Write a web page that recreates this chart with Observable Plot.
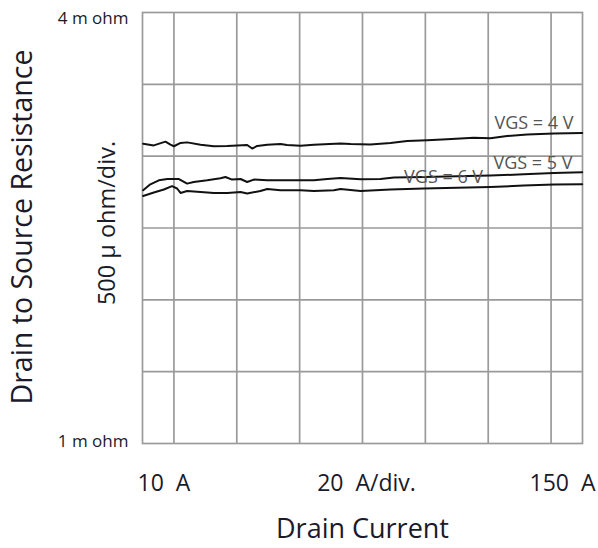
<!DOCTYPE html>
<html>
<head>
<meta charset="utf-8">
<script src="https://cdn.jsdelivr.net/npm/d3@7"></script>
<script src="https://cdn.jsdelivr.net/npm/@observablehq/plot@0.6"></script>
<style>
  html, body { margin: 0; padding: 0; background: #fff; }
  #chart svg { display: block; }
</style>
</head>
<body>
<div id="chart"></div>
<script>
// Drain current (A) and drain-to-source resistance (m ohm) for each VGS curve
const vgs4Current = [10.2, 13.6, 17.3, 18.9, 20.0, 22.1, 24.2, 28.5, 32.7, 37.0, 43.3, 44.9, 46.5, 49.7, 53.9, 56.0, 60.3, 64.5, 73.0, 76.2, 82.5, 88.9, 94.2, 100.6, 106.9, 115.4, 120.7, 126.0, 132.4, 140.9, 149.9];
const vgs4Res     = [3.087, 3.075, 3.101, 3.080, 3.069, 3.092, 3.096, 3.080, 3.069, 3.071, 3.078, 3.053, 3.071, 3.080, 3.085, 3.078, 3.073, 3.080, 3.089, 3.085, 3.082, 3.092, 3.105, 3.110, 3.117, 3.129, 3.124, 3.140, 3.150, 3.157, 3.161];

const vgs5Current = [10.2, 12.5, 15.2, 17.9, 21.6, 24.2, 26.3, 30.6, 34.8, 36.4, 38.5, 41.2, 43.3, 45.4, 49.7, 56.0, 64.5, 68.8, 73.0, 79.4, 85.7, 90.0, 99.5, 110.1, 120.7, 131.3, 140.9, 149.9];
const vgs5Res     = [2.763, 2.804, 2.832, 2.841, 2.841, 2.809, 2.820, 2.832, 2.846, 2.855, 2.837, 2.841, 2.820, 2.837, 2.832, 2.832, 2.832, 2.841, 2.848, 2.839, 2.841, 2.851, 2.855, 2.860, 2.865, 2.874, 2.883, 2.888];

const vgs6Current = [10.2, 13.6, 16.8, 19.4, 21.0, 22.1, 24.2, 28.5, 32.7, 37.0, 41.2, 43.3, 47.5, 49.7, 53.9, 60.3, 64.5, 70.9, 73.0, 79.4, 88.9, 99.5, 110.1, 120.7, 131.3, 140.9, 149.9];
const vgs6Res     = [2.723, 2.747, 2.768, 2.791, 2.775, 2.744, 2.758, 2.751, 2.744, 2.744, 2.751, 2.740, 2.758, 2.772, 2.763, 2.763, 2.758, 2.763, 2.772, 2.758, 2.768, 2.775, 2.781, 2.786, 2.795, 2.802, 2.804];

// Curve labels
const seriesLabels = ["VGS = 4 V", "VGS = 5 V", "VGS = 6 V"];
const labelCurrent = [150, 150, 105.8];

// Axis ranges and grid (20 A/div, 500 µ ohm/div)
const xDomain = [10, 150];
const yDomain = [1, 4];
const xGrid = [20, 40, 60, 80, 100, 120, 140];
const yGrid = [1.5, 2, 2.5, 3, 3.5];

// Texts
const yTopLabel = "4 m ohm";
const yBottomLabel = "1 m ohm";
const yDivLabel = "500 µ ohm/div.";
const yTitle = "Drain to Source Resistance";
const xLeftLabel = "10  A";
const xDivLabel = "20  A/div.";
const xRightLabel = "150  A";
const xTitle = "Drain Current";

const series = [
  {label: seriesLabels[0], x: vgs4Current, y: vgs4Res},
  {label: seriesLabels[1], x: vgs5Current, y: vgs5Res},
  {label: seriesLabels[2], x: vgs6Current, y: vgs6Res}
];
const rows = series.flatMap(s => s.x.map((x, i) => ({series: s.label, current: x, res: s.y[i]})));

function interp(s, x) {
  for (let i = 1; i < s.x.length; i++) {
    if (x <= s.x[i]) {
      const t = (x - s.x[i - 1]) / (s.x[i] - s.x[i - 1]);
      return s.y[i - 1] + t * (s.y[i] - s.y[i - 1]);
    }
  }
  return s.y[s.y.length - 1];
}
const labelRows = series.map((s, i) => ({label: s.label, current: labelCurrent[i], res: interp(s, labelCurrent[i])}));

const font = "'Open Sans', 'Noto Sans', sans-serif";
const gridColor = "#9a9a9a";
const textColor = "#1a1a2a";

const T = (txt, opts) => Plot.text([txt], {text: d => d, lineAnchor: "middle", fill: textColor, fontFamily: font, ...opts});

const chart = Plot.plot({
  width: 598,
  height: 548,
  marginLeft: 142,
  marginRight: 16,
  marginTop: 12,
  marginBottom: 105,
  style: {fontFamily: font, background: "#fff"},
  x: {domain: xDomain, axis: null},
  y: {domain: yDomain, axis: null},
  marks: [
    Plot.ruleX(xGrid, {stroke: gridColor, strokeWidth: 1.7}),
    Plot.ruleY(yGrid, {stroke: gridColor, strokeWidth: 1.7}),
    Plot.frame({stroke: gridColor, strokeWidth: 1.7}),
    Plot.line(rows, {x: "current", y: "res", z: "series", stroke: "#111", strokeWidth: 2}),
    // curve labels
    Plot.text(labelRows.slice(0, 1), {x: "current", y: "res", text: "label", textAnchor: "end", lineAnchor: "middle", dx: -9, dy: -9.5, fill: "#555", fontSize: 18, fontFamily: font}),
    Plot.text(labelRows.slice(1, 2), {x: "current", y: "res", text: "label", textAnchor: "end", lineAnchor: "middle", dx: -10, dy: -9.5, fill: "#555", fontSize: 18, fontFamily: font}),
    Plot.text(labelRows.slice(2), {x: "current", y: "res", text: "label", textAnchor: "middle", lineAnchor: "middle", dy: -11, fill: "#555", fontSize: 18, fontFamily: font}),
    // y end labels
    T(yTopLabel, {frameAnchor: "top-left", textAnchor: "end", dx: -14, dy: 6, fontSize: 17}),
    T(yBottomLabel, {frameAnchor: "bottom-left", textAnchor: "end", dx: -14, dy: -2, fontSize: 17}),
    // y titles
    T(yDivLabel, {frameAnchor: "left", textAnchor: "middle", rotate: -90, dx: -35, dy: -5, fontSize: 23.5}),
    T(yTitle, {frameAnchor: "left", textAnchor: "middle", rotate: -90, dx: -120, dy: -1, fontSize: 28.5}),
    // x labels
    T(xLeftLabel, {frameAnchor: "bottom-left", textAnchor: "start", dx: -5, dy: 40, fontSize: 23}),
    T(xDivLabel, {frameAnchor: "bottom", textAnchor: "middle", dx: 4, dy: 40, fontSize: 23}),
    T(xRightLabel, {frameAnchor: "bottom-right", textAnchor: "end", dx: 13, dy: 40, fontSize: 23}),
    T(xTitle, {frameAnchor: "bottom", textAnchor: "middle", dy: 86, fontSize: 27})
  ]
});
document.getElementById("chart").append(chart);
</script>
</body>
</html>
